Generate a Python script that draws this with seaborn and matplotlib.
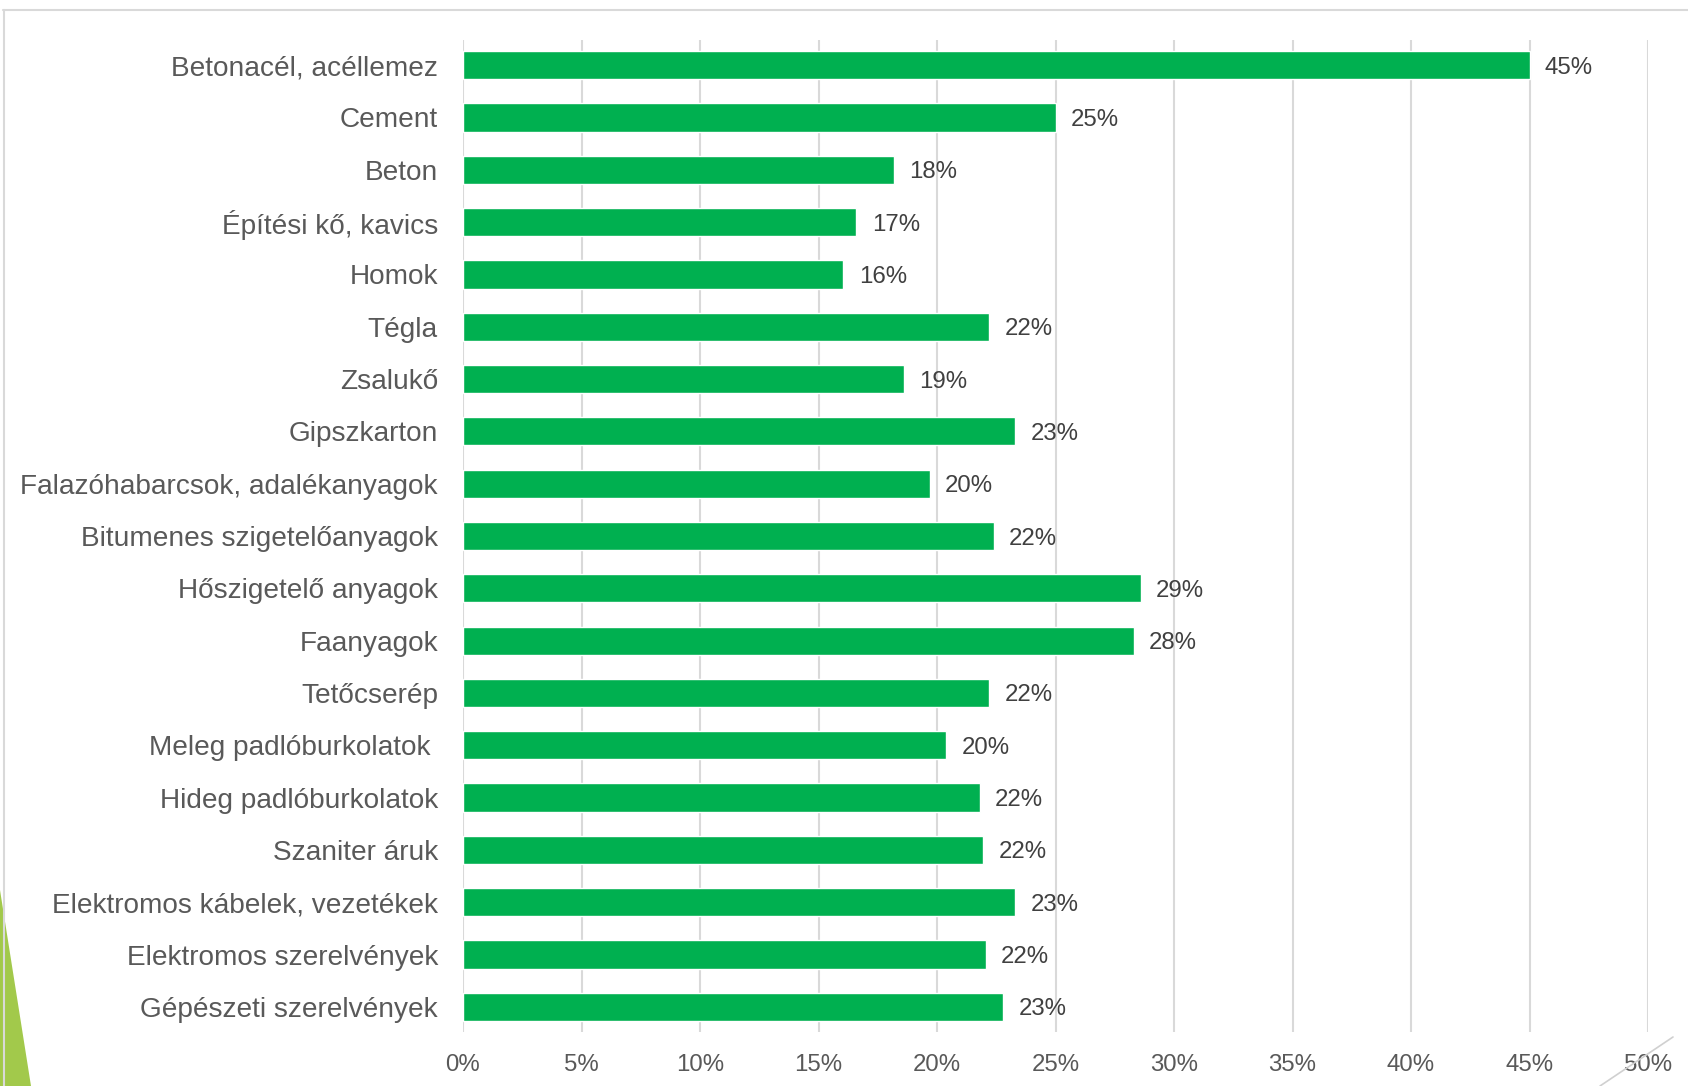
import matplotlib
matplotlib.use("Agg")
import matplotlib.pyplot as plt
import seaborn as sns
import pandas as pd
from matplotlib.patches import Polygon
from matplotlib.lines import Line2D

categories = [
    "Betonacél, acéllemez", "Cement", "Beton", "Építési kő, kavics", "Homok",
    "Tégla", "Zsalukő", "Gipszkarton", "Falazóhabarcsok, adalékanyagok",
    "Bitumenes szigetelőanyagok", "Hőszigetelő anyagok", "Faanyagok",
    "Tetőcserép", "Meleg padlóburkolatok ", "Hideg padlóburkolatok",
    "Szaniter áruk", "Elektromos kábelek, vezetékek", "Elektromos szerelvények",
    "Gépészeti szerelvények",
]
values = [45.0, 25.0, 18.2, 16.6, 16.05, 22.2, 18.6, 23.3, 19.7, 22.4,
          28.6, 28.3, 22.2, 20.4, 21.8, 21.95, 23.3, 22.05, 22.8]
xticks = [0, 5, 10, 15, 20, 25, 30, 35, 40, 45, 50]

df = pd.DataFrame({"cat": categories, "val": values})

sns.set_theme(style="white")
plt.rcParams['font.family'] = ['Liberation Sans', 'DejaVu Sans']

fig = plt.figure(figsize=(16.88, 10.86), dpi=100)
ax = fig.add_axes([463/1688, 1 - 1032/1086, (1648-463)/1688, (1032-40)/1086])

sns.barplot(data=df, x="val", y="cat", orient="h", color="#00B050",
            saturation=1, width=0.54, ax=ax, zorder=3)

ax.set_xlim(0, 50)
ax.set_ylim(18.48, -0.48)
ax.set_xticks(xticks)
ax.set_xticklabels([f"{t}%" for t in xticks], fontsize=17.3, color="#595959")
ax.tick_params(axis="x", length=0, pad=16)
ax.tick_params(axis="y", length=0, pad=18, labelsize=20.2, labelcolor="#595959")
ax.set_xlabel("")
ax.set_ylabel("")
ax.grid(axis="x", color="#D9D9D9", linewidth=1.5, zorder=0)
ax.grid(axis="y", visible=False)
for s in ax.spines.values():
    s.set_visible(False)

texts = ax.bar_label(ax.containers[0], labels=[f"{round(v)}%" for v in values],
                     padding=11, fontsize=17.3, color="#404040")
for t in texts:
    t.set_va("center_baseline")

# slide decorations
fig.add_artist(Line2D([3/1688, 1], [1 - 10/1086, 1 - 10/1086],
                      transform=fig.transFigure, color="#D9D9D9", linewidth=1.5))
fig.add_artist(Line2D([4/1688, 4/1688], [1 - 10/1086, 0],
                      transform=fig.transFigure, color="#D9D9D9", linewidth=1.5))
fig.add_artist(Polygon([[0, 1 - 890/1086], [0, 0], [31/1688, 0]],
                       closed=True, transform=fig.transFigure,
                       facecolor="#A2C94B", edgecolor="none"))
fig.add_artist(Line2D([1600/1688, 1673/1688], [0, 1 - 1037/1086],
                      transform=fig.transFigure, color="#D0D0D0", linewidth=1.2))

fig.savefig("out.png", dpi=100)
